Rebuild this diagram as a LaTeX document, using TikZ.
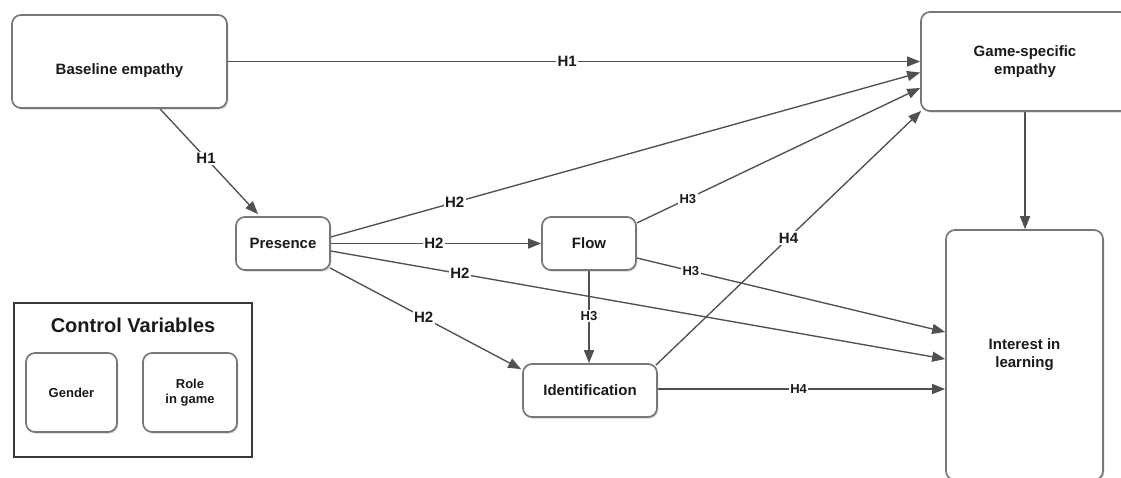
\documentclass[tikz,border=0pt]{standalone}
\usepackage{fontspec}
\setmainfont{Liberation Sans}
\usetikzlibrary{arrows.meta,shadows,backgrounds}
\definecolor{edgec}{HTML}{505050}
\definecolor{boxc}{HTML}{777777}
\definecolor{txt}{HTML}{1A1A1A}
\definecolor{ctrlc}{HTML}{3A3A3A}
\tikzset{
  box/.style={draw=boxc, line width=1.7pt, rounded corners=9pt, fill=white, align=center,
    font=\fontsize{15}{18}\selectfont\bfseries, text=txt, inner sep=0pt,
    drop shadow={shadow xshift=1.3pt, shadow yshift=-1.6pt, opacity=0.35}},
  smallbox/.style={box, font=\fontsize{13}{15.5}\selectfont\bfseries},
  conn/.style={draw=edgec, line width=1.35pt, -{Triangle[length=13pt,width=10pt]}},
  lab/.style={fill=white, font=\fontsize{15}{18}\selectfont\bfseries, text=txt, inner sep=1.5pt},
  slab/.style={lab, font=\fontsize{13}{15}\selectfont\bfseries},
}
\begin{document}
\begin{tikzpicture}[x=1pt,y=-1pt]
\useasboundingbox (0,0) rectangle (1121,477);
% main nodes
\node[box, minimum width=215pt, minimum height=93pt] (base) at (119.5,61.5) {\raisebox{-13pt}[0pt][0pt]{Baseline empathy}};
\node[box, minimum width=208pt, minimum height=99pt] (game) at (1025,61.5) {Game-specific\\empathy};
\node[box, minimum width=157pt, minimum height=250pt] (int) at (1024.5,355) {Interest in\\learning};
\node[box, minimum width=94pt, minimum height=53pt] (pres) at (283,243.5) {Presence};
\node[box, minimum width=94pt, minimum height=53pt] (flow) at (589,243.5) {Flow};
\node[box, minimum width=134pt, minimum height=53pt] (ident) at (590,390.5) {Identification};
% control variables
\node[draw=ctrlc, line width=1.5pt, minimum width=238pt, minimum height=154pt, inner sep=0pt] (ctrl) at (133,380) {};
\node[font=\fontsize{20}{24}\selectfont\bfseries, text=txt, inner sep=0pt] (ctitle) at (133,325) {Control Variables};
\node[smallbox, minimum width=91pt, minimum height=79pt] (gender) at (71.5,392.5) {Gender};
\node[smallbox, minimum width=94pt, minimum height=79pt] (role) at (190,392.5) {Role\\in game};
% connectors
\begin{pgfonlayer}{background}
\draw[conn] (base.east) -- node[lab,pos=0.49]{H1} (game.west);
\draw[conn] ([xshift=40.5pt]base.south) -- node[lab,pos=0.47]{H1} ([xshift=-25pt,yshift=2pt]pres.north);
\draw[conn] ([yshift=6.5pt]pres.east) -- node[lab,pos=0.21]{H2} ([yshift=-11pt]game.west);
\draw[conn] (pres.east) -- node[lab,pos=0.49]{H2} (flow.west);
\draw[conn] ([yshift=-7.5pt]pres.east) -- node[lab,pos=0.21]{H2} ([yshift=-4pt]int.west);
\draw[conn] ([xshift=-1pt,yshift=3pt]pres.south east) -- node[lab,pos=0.49]{H2} ([xshift=-1pt,yshift=-6pt]ident.north west);
\draw[conn] ([yshift=20.5pt]flow.east) -- node[slab,pos=0.18]{H3} ([yshift=-26.5pt]game.west);
\draw[conn] ([yshift=-14.5pt]flow.east) -- node[slab,pos=0.175]{H3} ([yshift=23pt]int.west);
\draw[conn] (flow.south) -- node[slab,pos=0.49]{H3} (flow.south |- ident.north);
\draw[conn] ([xshift=-2pt,yshift=-2pt]ident.north east) -- node[lab,pos=0.5]{H4} ([xshift=1pt,yshift=1pt]game.south west);
\draw[conn] ([yshift=1.5pt]ident.east) -- node[slab,pos=0.49]{H4} ([yshift=1.5pt]ident.east -| int.west);
\draw[conn] (game.south) -- (game.south |- int.north);
\end{pgfonlayer}
\end{tikzpicture}
\end{document}
